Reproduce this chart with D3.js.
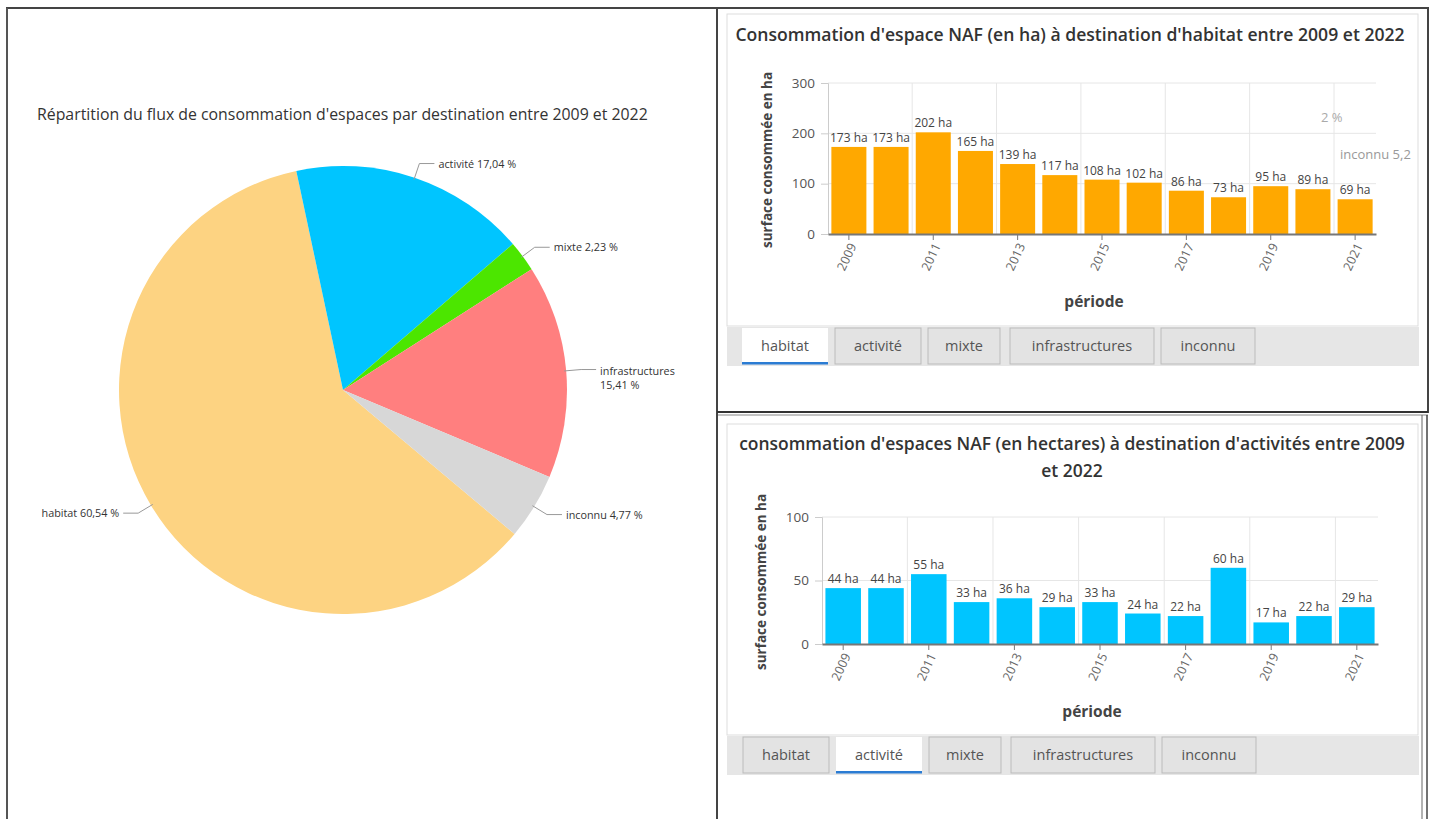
<!DOCTYPE html>
<html>
<head>
<meta charset="utf-8">
<script src="https://cdn.jsdelivr.net/npm/d3@7"></script>
<style>
  body { margin: 0; background: #fff; font-family: "Open Sans", Lato, sans-serif; }
  text { font-family: "Open Sans", Lato, sans-serif; }
</style>
</head>
<body>
<div id="chart"></div>
<script>
// pie data
const pieCategories = ["habitat", "activité", "mixte", "infrastructures", "inconnu"];
const pieShares = [60.54, 17.04, 2.23, 15.41, 4.77];
const pieColors = ["#fdd382", "#00c5ff", "#4ce600", "#ff7f7f", "#d7d7d7"];

// bar data
const years = [2009, 2010, 2011, 2012, 2013, 2014, 2015, 2016, 2017, 2018, 2019, 2020, 2021];
const habitatHa = [173, 173, 202, 165, 139, 117, 108, 102, 86, 73, 95, 89, 69];
const activiteHa = [44, 44, 55, 33, 36, 29, 33, 24, 22, 60, 17, 22, 29];
const habitatTicks = [0, 100, 200, 300];
const activiteTicks = [0, 50, 100];
const tabNames = ["habitat", "activité", "mixte", "infrastructures", "inconnu"];

const W = 1435, H = 819;
const svg = d3.select("#chart").append("svg")
  .attr("width", W).attr("height", H);

// shrink/grow a text node's font so it spans a given width
function fitWidth(sel, target) {
  const len = sel.node().getComputedTextLength();
  const fs = parseFloat(sel.attr("font-size"));
  sel.attr("font-size", fs * target / len);
}

// ---- frames ----
const frame = svg.append("g").attr("fill", "none");
frame.append("line").attr("x1", 6).attr("x2", 1429).attr("y1", 8).attr("y2", 8)
  .attr("stroke", "#444").attr("stroke-width", 2);
frame.append("line").attr("x1", 7).attr("x2", 7).attr("y1", 8).attr("y2", H)
  .attr("stroke", "#555").attr("stroke-width", 2);
frame.append("line").attr("x1", 717).attr("x2", 717).attr("y1", 8).attr("y2", H)
  .attr("stroke", "#444").attr("stroke-width", 2);
frame.append("line").attr("x1", 1428).attr("x2", 1428).attr("y1", 8).attr("y2", 413)
  .attr("stroke", "#444").attr("stroke-width", 2);
frame.append("line").attr("x1", 717).attr("x2", 1428).attr("y1", 412).attr("y2", 412)
  .attr("stroke", "#333").attr("stroke-width", 2);
frame.append("line").attr("x1", 718).attr("x2", 1428).attr("y1", 415).attr("y2", 415)
  .attr("stroke", "#888").attr("stroke-width", 1);
frame.append("line").attr("x1", 1422).attr("x2", 1422).attr("y1", 415).attr("y2", H)
  .attr("stroke", "#666").attr("stroke-width", 1);
frame.append("line").attr("x1", 1427).attr("x2", 1427).attr("y1", 415).attr("y2", H)
  .attr("stroke", "#444").attr("stroke-width", 1.5);
// inner chart containers
frame.append("rect").attr("x", 727).attr("y", 14).attr("width", 691).attr("height", 312)
  .attr("stroke", "#ddd");
frame.append("rect").attr("x", 727).attr("y", 424).attr("width", 691).attr("height", 311)
  .attr("stroke", "#ddd");

// ---- pie ----
const cx = 343, cy = 390, R = 224;
const startA = 130 * Math.PI / 180;
const pie = d3.pie().sort(null).startAngle(startA).endAngle(startA + 2 * Math.PI);
const arcs = pie(pieShares);
const arc = d3.arc().innerRadius(0).outerRadius(R);

const pieTitle = svg.append("text")
  .attr("x", 37).attr("y", 120)
  .attr("font-size", 15).attr("fill", "#333")
  .text("Répartition du flux de consommation d'espaces par destination entre 2009 et 2022");
fitWidth(pieTitle, 611);

const pg = svg.append("g").attr("transform", `translate(${cx},${cy})`);
pg.selectAll("path").data(arcs).enter().append("path")
  .attr("d", arc)
  .attr("fill", (d, i) => pieColors[i]);

const fmt = v => v.toFixed(2).replace(".", ",") + " %";
arcs.forEach((d, i) => {
  const mid = (d.startAngle + d.endAngle) / 2;
  const p0 = [Math.sin(mid) * (R - 2), -Math.cos(mid) * (R - 2)];
  const p1 = [Math.sin(mid) * (R + 15), -Math.cos(mid) * (R + 15)];
  const right = Math.sin(mid) >= 0;
  const p2 = [p1[0] + (right ? 15 : -15), p1[1]];
  pg.append("polyline")
    .attr("points", [p0, p1, p2].map(p => p.join(",")).join(" "))
    .attr("fill", "none").attr("stroke", "#999").attr("stroke-width", 1);
  const t = pg.append("text")
    .attr("x", p2[0] + (right ? 4 : -4)).attr("y", p2[1] + 4)
    .attr("text-anchor", right ? "start" : "end")
    .attr("font-size", 10.8).attr("fill", "#333");
  t.text(pieCategories[i] + " " + fmt(pieShares[i]));
  // wrap when it would run past the panel border
  if (right && cx + p2[0] + 4 + t.node().getComputedTextLength() > 700) {
    t.text(null);
    t.attr("y", p2[1] + 5);
    t.append("tspan").attr("x", p2[0] + 4).text(pieCategories[i]);
    t.append("tspan").attr("x", p2[0] + 4).attr("dy", 14).text(fmt(pieShares[i]));
  }
});

// ---- bar charts ----
function barChart(cfg) {
  const g = svg.append("g");
  const x = d3.scaleBand().domain(years).range([cfg.x0, cfg.x1]).paddingInner(0.17).paddingOuter(0.08);
  const y = d3.scaleLinear().domain([0, cfg.max]).range([cfg.y0, cfg.y1]);

  // title
  const tt = g.append("text").attr("text-anchor", "middle")
    .attr("font-size", 16).attr("font-weight", 600).attr("fill", "#333");
  cfg.title.forEach((line, i) => {
    tt.append("tspan").attr("x", cfg.titleX).attr("y", cfg.titleY + i * 27).text(line);
  });
  const first = tt.select("tspan").node().getComputedTextLength();
  tt.attr("font-size", 16 * cfg.titleW / first);

  // horizontal grid
  g.append("g").selectAll("line").data(cfg.ticks.filter(t => t > 0)).enter().append("line")
    .attr("x1", cfg.x0).attr("x2", cfg.x1)
    .attr("y1", d => y(d)).attr("y2", d => y(d))
    .attr("stroke", "#e6e6e6");
  // vertical grid at every second band edge
  g.append("g").selectAll("line").data(years.filter((d, i) => i > 0 && i % 2 === 0)).enter().append("line")
    .attr("x1", d => x(d) - x.step() * x.paddingInner() / 2)
    .attr("x2", d => x(d) - x.step() * x.paddingInner() / 2)
    .attr("y1", cfg.y1).attr("y2", cfg.y0)
    .attr("stroke", "#e6e6e6");

  // y axis
  const ya = g.append("g").attr("transform", `translate(${cfg.x0},0)`)
    .call(d3.axisLeft(y).tickValues(cfg.ticks).tickSize(7).tickPadding(6));
  ya.select(".domain").attr("stroke", "#ccc");
  ya.selectAll(".tick line").attr("stroke", "#ccc");
  ya.selectAll(".tick text").attr("font-size", 13.5).attr("fill", "#555")
    .attr("font-family", "'Open Sans', sans-serif");

  // bars
  g.append("g").selectAll("rect").data(cfg.values).enter().append("rect")
    .attr("x", (d, i) => x(years[i]))
    .attr("width", x.bandwidth())
    .attr("y", d => y(d))
    .attr("height", d => cfg.y0 - y(d))
    .attr("fill", cfg.color);

  // value labels
  g.append("g").selectAll("text").data(cfg.values).enter().append("text")
    .attr("x", (d, i) => x(years[i]) + x.bandwidth() / 2)
    .attr("y", d => y(d) - 5)
    .attr("text-anchor", "middle")
    .attr("font-size", 12).attr("fill", "#444")
    .text(d => d + " ha");

  // x axis
  const xa = g.append("g").attr("transform", `translate(0,${cfg.y0})`)
    .call(d3.axisBottom(x).tickValues(years.filter((d, i) => i % 2 === 0)).tickSize(6).tickSizeOuter(0));
  xa.select(".domain").attr("stroke", "#777").attr("stroke-width", 2);
  xa.selectAll(".tick line").attr("stroke", "#777");
  xa.selectAll(".tick text")
    .attr("font-size", 12.5).attr("fill", "#666").attr("font-family", "'Open Sans', sans-serif")
    .attr("text-anchor", "end")
    .attr("transform", "translate(0,4) rotate(-65)")
    .attr("dx", "-0.3em").attr("dy", "0.35em")
    .attr("y", 6).attr("x", 0);

  // axis titles
  g.append("text")
    .attr("transform", `translate(${cfg.yTitleX},${cfg.yTitleY}) rotate(-90)`)
    .attr("text-anchor", "middle").attr("font-size", 13.5).attr("font-weight", 700).attr("fill", "#444")
    .text("surface consommée en ha");
  g.append("text")
    .attr("x", (cfg.x0 + cfg.x1) / 2 - 8).attr("y", cfg.y0 + 73)
    .attr("text-anchor", "middle").attr("font-size", 15.5).attr("font-weight", 700).attr("fill", "#444")
    .text("période");

  // tabs
  const tb = g.append("g");
  tb.append("rect").attr("x", 727).attr("y", cfg.tabY).attr("width", 692).attr("height", 39)
    .attr("fill", "#e6e6e6");
  let tx = cfg.tabX;
  const widths = [86, 86, 72, 144, 94];
  tabNames.forEach((name, i) => {
    const sel = i === cfg.selected;
    tb.append("rect").attr("x", tx).attr("y", cfg.tabY + 1).attr("width", widths[i]).attr("height", 36)
      .attr("fill", sel ? "#fff" : "#e3e3e3")
      .attr("stroke", sel ? "none" : "#bbb");
    if (sel) {
      tb.append("rect").attr("x", tx).attr("y", cfg.tabY + 35).attr("width", widths[i]).attr("height", 2.5)
        .attr("fill", "#2b7cd3");
    }
    tb.append("text").attr("x", tx + widths[i] / 2).attr("y", cfg.tabY + 24)
      .attr("text-anchor", "middle").attr("font-size", 14.5).attr("fill", "#555")
      .text(name);
    tx += widths[i] + (i === 2 ? 10 : 7);
  });
  return g;
}

barChart({
  title: ["Consommation d'espace NAF (en ha) à destination d'habitat entre 2009 et 2022"],
  titleX: 1070, titleY: 41, titleW: 670,
  values: habitatHa, ticks: habitatTicks, max: 300, color: "#ffa800",
  x0: 828, x1: 1376, y0: 234, y1: 83,
  yTitleX: 772, yTitleY: 160,
  tabY: 327, tabX: 742, selected: 0
});

barChart({
  title: ["consommation d'espaces NAF (en hectares) à destination d'activités entre 2009", "et 2022"],
  titleX: 1072, titleY: 450, titleW: 666,
  values: activiteHa, ticks: activiteTicks, max: 100, color: "#00c5ff",
  x0: 822, x1: 1378, y0: 644, y1: 517,
  yTitleX: 766, yTitleY: 582,
  tabY: 736, tabX: 743, selected: 1
});

// leftover labels showing through in the top panel
svg.append("text").attr("x", 1321).attr("y", 122).attr("font-size", 13).attr("fill", "#aaa").text("2 %");
svg.append("text").attr("x", 1340).attr("y", 159).attr("font-size", 13).attr("fill", "#999").text("inconnu 5,2");
</script>
</body>
</html>
